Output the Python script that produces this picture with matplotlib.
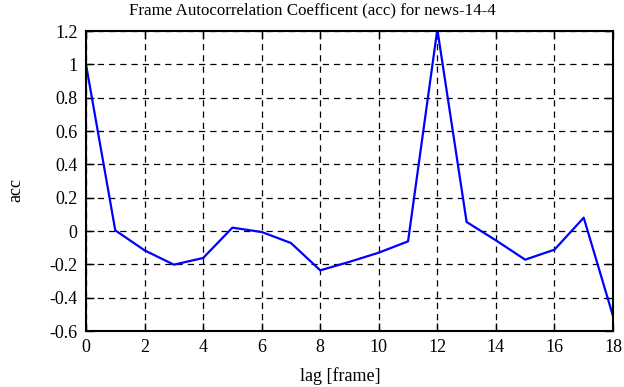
import matplotlib
matplotlib.use("Agg")
import matplotlib.pyplot as plt

lag = list(range(19))
acc = [1.0, 0.004, -0.116, -0.202, -0.162, 0.02, -0.006, -0.072, -0.236, -0.185,
       -0.13, -0.062, 1.21, 0.054, -0.056, -0.172, -0.112, 0.08, -0.51]
yticks = [-0.6, -0.4, -0.2, 0, 0.2, 0.4, 0.6, 0.8, 1, 1.2]
ylabels = ["-0.6", "-0.4", "-0.2", "0", "0.2", "0.4", "0.6", "0.8", "1", "1.2"]

plt.rcParams['font.family'] = ['Liberation Serif', 'DejaVu Serif']
plt.rcParams['font.size'] = 13

fig = plt.figure(figsize=(6.24, 3.87), dpi=100)
ax = fig.add_axes([86/624, 1 - 331/387, (613-86)/624, 300/387])
ax.plot(lag, acc, color='#0000ff', lw=1.6, clip_on=True)
ax.set_xlim(0, 18)
ax.set_ylim(-0.6, 1.2)
ax.set_xticks(range(0, 19, 2))
ax.set_yticks(yticks)
ax.set_yticklabels(ylabels)
ax.grid(True, color='black', linestyle=(0, (5, 4)), lw=0.9)
ax.tick_params(direction='in', length=6, width=1, top=True, right=True, pad=6)
for s in ax.spines.values():
    s.set_linewidth(1.5)
fig.text(0.5, 1 - 10/387, "Frame Autocorrelation Coefficent (acc) for news-14-4",
         fontsize=12.2, ha='center', va='center')
fig.text(340/624, 1 - 376/387, "lag [frame]", ha='center', va='center')
fig.text(16/624, 1 - 190/387, "acc", rotation=90, ha='center', va='center')
fig.savefig("out.png", dpi=100)
